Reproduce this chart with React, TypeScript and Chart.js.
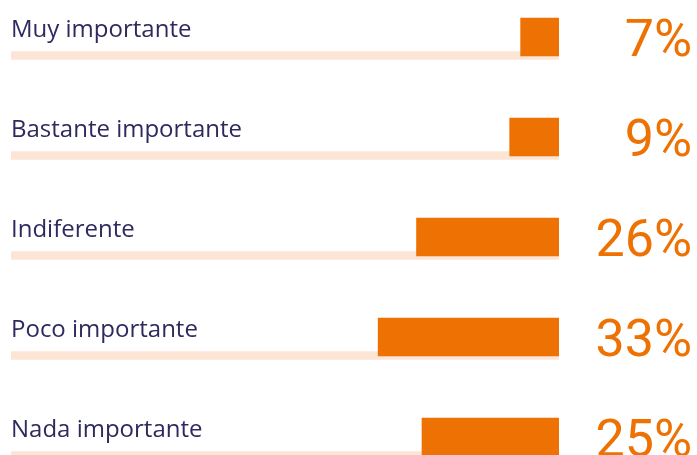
import React, { useEffect, useRef } from "react";
import { Chart, registerables } from "chart.js";

Chart.register(...registerables);

const categories = ["Muy importante", "Bastante importante", "Indiferente", "Poco importante", "Nada importante"];
const values = [7, 9, 26, 33, 25];
const trackValues = [100, 100, 100, 100, 100];
const valueLabels = ["7%", "9%", "26%", "33%", "25%"];

const ORANGE = "#EE7203";
const TRACK = "#FCE5D4";
const NAVY = "#2E2A5E";

export default function App() {
  const ref = useRef<HTMLCanvasElement | null>(null);

  useEffect(() => {
    document.body.style.margin = "0";
    const canvas = ref.current;
    if (!canvas) return;

    const labelPlugin = {
      id: "rowLabels",
      afterDatasetsDraw(chart: any) {
        const ctx = chart.ctx;
        const barMeta = chart.getDatasetMeta(0);
        const trackMeta = chart.getDatasetMeta(1);
        const left = chart.chartArea.left;
        ctx.save();
        categories.forEach((c, i) => {
          const b = barMeta.data[i];
          const t = trackMeta.data[i];
          ctx.fillStyle = NAVY;
          ctx.font = "24px 'Open Sans'";
          ctx.textAlign = "left";
          ctx.textBaseline = "alphabetic";
          ctx.fillText(c, left, b.y);
          ctx.fillStyle = ORANGE;
          ctx.font = "52px Roboto";
          ctx.textAlign = "right";
          ctx.fillText(valueLabels[i], 692, t.y);
        });
        ctx.restore();
      },
    };

    const chart = new Chart(canvas, {
      type: "bar",
      data: {
        datasets: [
          {
            label: "valor",
            data: values.map((v, i) => ({ x: v, y: i })),
            backgroundColor: ORANGE,
            barThickness: 38,
            grouped: false,
            order: 0,
            yAxisID: "y",
          } as any,
          {
            label: "pista",
            data: trackValues.map((v, i) => ({ x: v, y: i })),
            backgroundColor: TRACK,
            barThickness: 8,
            grouped: false,
            order: 1,
            yAxisID: "yTrack",
          } as any,
        ],
      },
      options: {
        indexAxis: "y",
        animation: false,
        responsive: false,
        maintainAspectRatio: false,
        layout: { padding: { left: 11, right: 138, top: 0, bottom: 0 } },
        plugins: { legend: { display: false }, tooltip: { enabled: false } },
        scales: {
          x: { type: "linear", min: 0, max: 100, reverse: true, display: false },
          y: { type: "linear", min: -0.37, max: 4.18, reverse: true, offset: false, grace: 0, display: false },
          yTrack: { type: "linear", axis: "y", position: "left", min: -0.555, max: 3.995, reverse: true, offset: false, grace: 0, display: false },
        } as any,
      },
      plugins: [labelPlugin],
    });
    return () => chart.destroy();
  }, []);

  return (
    <div style={{ width: 697, height: 455, background: "#fff" }}>
      <canvas ref={ref} width={697} height={455} style={{ display: "block", width: 697, height: 455 }} />
    </div>
  );
}
